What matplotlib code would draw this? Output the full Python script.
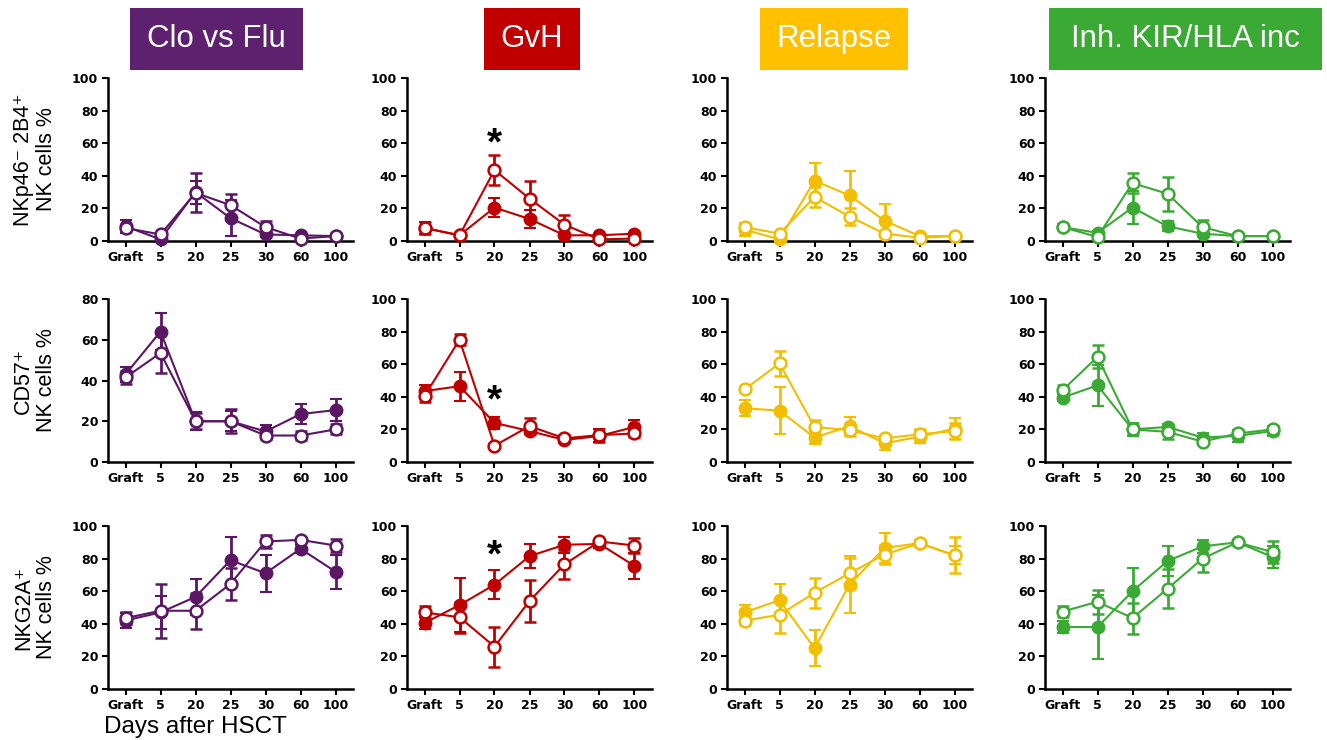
import matplotlib
matplotlib.use('Agg')
import matplotlib.pyplot as plt
from matplotlib.patches import Rectangle

W, H = 1327, 740

timepoints = ['Graft', '5', '20', '25', '30', '60', '100']
groups = ['Clo vs Flu', 'GvH', 'Relapse', 'Inh. KIR/HLA inc']
line_colors = ['#5B1764', '#C00000', '#F2BE00', '#3AAA35']
box_colors = ['#5E2170', '#C00000', '#FFC000', '#3AAA35']
row_labels = ['NKp46\u207b 2B4\u207a\nNK cells %', 'CD57\u207a\nNK cells %', 'NKG2A\u207a\nNK cells %']

# ---- Row 1: NKp46- 2B4+ ----
nkp_clo_f = [9, 1, 30, 14, 4, 3.5, 3]
nkp_clo_f_err = [4, 1, 7, 11, 1.5, 1, 0.5]
nkp_clo_o = [8, 4, 29.5, 22, 8.5, 1.5, 3]
nkp_clo_o_err = [2, 1, 12, 7, 4, 0.5, 0.5]

nkp_gvh_f = [8, 3.5, 20.5, 13.5, 3.5, 3.5, 4.5]
nkp_gvh_f_err = [3.5, 0.5, 6, 5.7, 1, 0.5, 0.5]
nkp_gvh_o = [8, 3.5, 43.5, 26, 10, 1, 1.5]
nkp_gvh_o_err = [3.5, 0.5, 9, 11, 6, 0.5, 0.5]

nkp_rel_f = [7, 1, 37, 28, 12.5, 3, 3]
nkp_rel_f_err = [4, 0.5, 11, 15, 10, 0.5, 0.5]
nkp_rel_o = [8.5, 4.5, 27, 15, 4.5, 2, 3]
nkp_rel_o_err = [2, 0.5, 6, 5, 1, 0.5, 0.5]

nkp_kir_f = [8.5, 5, 20.5, 9, 4.5, 3, 3]
nkp_kir_f_err = [2, 1, 10, 3, 1, 0.5, 0.5]
nkp_kir_o = [8.5, 2.5, 35.5, 29, 8.5, 3, 3]
nkp_kir_o_err = [2, 0.5, 6, 10.5, 4.5, 0.5, 0.5]

# ---- Row 2: CD57+ ----
cd57_clo_f = [43, 64, 20, 20, 15, 23.5, 25.5]
cd57_clo_f_err = [3.5, 9, 4.5, 5, 3, 5, 5.3]
cd57_clo_o = [41.5, 53.5, 20, 20, 13, 13, 16]
cd57_clo_o_err = [3, 10, 4, 6, 1.5, 2, 2.5]

cd57_gvh_f = [43.5, 46.5, 24, 19, 13.5, 16, 21.5]
cd57_gvh_f_err = [3.5, 9, 3.5, 2, 2, 4, 4.5]
cd57_gvh_o = [40.5, 75, 10, 22, 14.5, 16.5, 17.5]
cd57_gvh_o_err = [3.5, 3.5, 1, 5, 2, 4, 2]

cd57_rel_f = [33, 31.5, 15, 22, 11.5, 15.5, 20.5]
cd57_rel_f_err = [5, 14.6, 4, 5.5, 4, 4, 6.3]
cd57_rel_o = [44.5, 60.5, 21.5, 19.5, 14.5, 17, 19]
cd57_rel_o_err = [1.5, 7.7, 4, 3.5, 2, 3, 5]

cd57_kir_f = [39.5, 47, 20, 21.5, 15, 16, 19]
cd57_kir_f_err = [2, 12.6, 4, 2, 3, 3.5, 3]
cd57_kir_o = [44, 64.5, 20, 18.5, 12.5, 17.5, 20]
cd57_kir_o_err = [3, 7, 3, 4.5, 1.5, 2, 2]

# ---- Row 3: NKG2A+ ----
nkg_clo_f = [42, 47, 56.5, 79, 71, 86, 72]
nkg_clo_f_err = [4.5, 10, 11, 14, 11.5, 2.5, 10.5]
nkg_clo_o = [43.5, 48, 48, 64.5, 90.5, 91.5, 88]
nkg_clo_o_err = [3.5, 16.5, 11, 10, 4, 1, 4]

nkg_gvh_f = [40.5, 51.5, 64, 81.5, 88.5, 89, 75.5]
nkg_gvh_f_err = [3.7, 16.5, 9, 7.5, 5, 2.5, 8]
nkg_gvh_o = [47, 44, 26, 54, 76.5, 90.5, 88]
nkg_gvh_o_err = [3.7, 9.5, 12.3, 13, 9, 1, 4.7]

nkg_rel_f = [47, 54.5, 25, 64, 86.5, 89.5, 82]
nkg_rel_f_err = [4.7, 10, 11, 17.5, 9, 2, 5.5]
nkg_rel_o = [42, 45.5, 59, 71, 82.5, 89.5, 82]
nkg_rel_o_err = [3, 11, 9.3, 9.5, 6, 2, 11]

nkg_kir_f = [38, 38, 60, 78.5, 87.5, 90, 81]
nkg_kir_f_err = [3.5, 19.5, 14.4, 9.3, 4.2, 1.5, 6.5]
nkg_kir_o = [47.5, 53.5, 43.5, 61.5, 80, 90, 84]
nkg_kir_o_err = [3.3, 7.5, 9.5, 12, 8.5, 1.5, 6.8]

panels = [
    [(nkp_clo_f, nkp_clo_f_err, nkp_clo_o, nkp_clo_o_err),
     (nkp_gvh_f, nkp_gvh_f_err, nkp_gvh_o, nkp_gvh_o_err),
     (nkp_rel_f, nkp_rel_f_err, nkp_rel_o, nkp_rel_o_err),
     (nkp_kir_f, nkp_kir_f_err, nkp_kir_o, nkp_kir_o_err)],
    [(cd57_clo_f, cd57_clo_f_err, cd57_clo_o, cd57_clo_o_err),
     (cd57_gvh_f, cd57_gvh_f_err, cd57_gvh_o, cd57_gvh_o_err),
     (cd57_rel_f, cd57_rel_f_err, cd57_rel_o, cd57_rel_o_err),
     (cd57_kir_f, cd57_kir_f_err, cd57_kir_o, cd57_kir_o_err)],
    [(nkg_clo_f, nkg_clo_f_err, nkg_clo_o, nkg_clo_o_err),
     (nkg_gvh_f, nkg_gvh_f_err, nkg_gvh_o, nkg_gvh_o_err),
     (nkg_rel_f, nkg_rel_f_err, nkg_rel_o, nkg_rel_o_err),
     (nkg_kir_f, nkg_kir_f_err, nkg_kir_o, nkg_kir_o_err)],
]

# significance stars (GvH panels, day 20)
star_row_y = [59, 37, 81]

FONT = ['Liberation Sans', 'DejaVu Sans']
plt.rcParams['font.family'] = FONT

fig = plt.figure(figsize=(W / 100, H / 100), dpi=100)

col_left = [108, 407, 727, 1045]
col_width = 245
row_top = [78, 299, 526]
row_height = 163

x = list(range(len(timepoints)))

for r in range(3):
    for c in range(4):
        ax = fig.add_axes([col_left[c] / W, 1 - (row_top[r] + row_height) / H,
                           col_width / W, row_height / H])
        f, fe, o, oe = panels[r][c]
        col = line_colors[c]
        ax.errorbar(x, f, yerr=fe, color=col, lw=1.5, marker='o', ms=8.5,
                    mfc=col, mec=col, mew=1.5, capsize=4, capthick=2,
                    elinewidth=2, clip_on=False, zorder=3)
        ax.errorbar(x, o, yerr=oe, color=col, lw=1.5, marker='o', ms=8.5,
                    mfc='white', mec=col, mew=1.8, capsize=4, capthick=2,
                    elinewidth=2, clip_on=False, zorder=4)
        ymax = 80 if (r == 1 and c == 0) else 100
        ax.set_ylim(0, ymax)
        ax.set_yticks(range(0, ymax + 1, 20))
        ax.set_xlim(-0.5, 6.5)
        ax.set_xticks(x)
        ax.set_xticklabels(timepoints)
        for s in ['top', 'right']:
            ax.spines[s].set_visible(False)
        for s in ['left', 'bottom']:
            ax.spines[s].set_linewidth(1.8)
        ax.tick_params(axis='both', width=1.5, length=4, labelsize=9, pad=3)
        for lab in ax.get_xticklabels() + ax.get_yticklabels():
            lab.set_fontweight('bold')
            lab.set_family('DejaVu Sans')
        if c == 1:
            ax.text(2, star_row_y[r], '*', ha='center', va='center',
                    fontsize=28, fontweight='bold', color='black')

# row labels
for r in range(3):
    yc = 1 - (row_top[r] + row_height / 2) / H
    fig.text(35 / W, yc, row_labels[r], rotation=90, ha='center', va='center',
             fontsize=15.5, multialignment='center', family=FONT, linespacing=1.1)

# x-axis title
fig.text(195 / W, 1 - 727 / H, 'Days after HSCT', ha='center', va='center', fontsize=17.5)

# title boxes
boxes = [(130, 303), (484, 580), (760, 908), (1049, 1322)]
for (x0, x1), g, bc in zip(boxes, groups, box_colors):
    fig.add_artist(Rectangle((x0 / W, 1 - 70 / H), (x1 - x0) / W, 62 / H,
                             transform=fig.transFigure, facecolor=bc, edgecolor='none'))
    fig.text((x0 + x1) / 2 / W, 1 - 39 / H, g, ha='center', va='center',
             color='white', fontsize=22.5)

fig.savefig('out.png', dpi=100)
